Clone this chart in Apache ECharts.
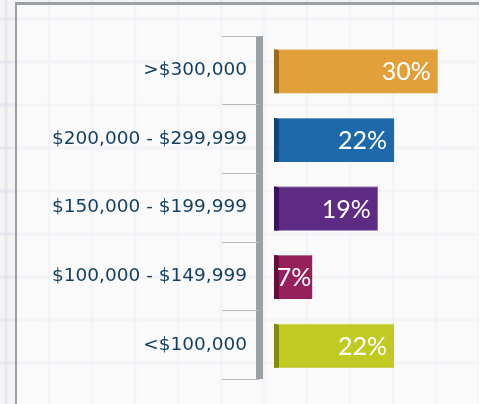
<!DOCTYPE html>
<html lang="en">
<head>
  <meta charset="UTF-8">
  <title>Income ranges</title>
  <script src="https://cdn.jsdelivr.net/npm/echarts@6/dist/echarts.min.js"></script>
  <style>
    html, body { margin: 0; padding: 0; }
    body {
      width: 479px; height: 404px; overflow: hidden; position: relative;
      background-color: #f4f4f6;
      background-image:
        linear-gradient(90deg, transparent 0, rgba(222,222,236,0.6) 1px, rgba(222,222,236,0.6) 3px, transparent 4px),
        linear-gradient(0deg, transparent 0, rgba(222,222,236,0.6) 1px, rgba(222,222,236,0.6) 3px, transparent 4px);
      background-size: 43px 43px;
      background-position: 4px 21px;
    }
    #frame {
      position: absolute; left: 15px; top: 2px; width: 480px; height: 420px;
      border-left: 2px solid #9aa0a4; border-top: 3px solid #9aa0a4;
      background: rgba(255,255,255,0.55);
    }
    #main { position: absolute; left: 0; top: 0; width: 479px; height: 404px; }
  </style>
</head>
<body>
<div id="frame"></div>
<div id="main"></div>
<script>
  // top to bottom
  var categories = ['>$300,000', '$200,000 - $299,999', '$150,000 - $199,999', '$100,000 - $149,999', '<$100,000'];
  var shares = [30, 22, 19, 7, 22];
  var faceColors = ['#e1a03a', '#1d69aa', '#5d2a84', '#95205b', '#c1c923'];
  var sideColors = ['#9a6a1e', '#0f4676', '#3b135d', '#650c3b', '#848a0c'];

  var myChart = echarts.init(document.getElementById('main'));

  var data = shares.map(function (v, i) { return [v, i]; });

  var option = {
    animation: false,
    grid: { left: 274, right: 14, top: 36, bottom: 25 },
    xAxis: { type: 'value', min: 0, max: 35, show: false },
    yAxis: {
      type: 'category',
      data: categories,
      inverse: true,
      offset: 15,
      axisLine: { show: true, onZero: false, lineStyle: { color: '#9ba2a6', width: 7, cap: 'butt' } },
      axisTick: { show: true, alignWithLabel: false, length: 37, lineStyle: { color: '#b5babd', width: 1 } },
      axisLabel: {
        margin: 12,
        color: '#123f5f',
        fontFamily: 'DejaVu Sans',
        fontSize: 18.5
      },
      splitLine: { show: false }
    },
    series: [{
      type: 'custom',
      data: data,
      encode: { x: 0, y: 1 },
      renderItem: function (params, api) {
        var v = api.value(0), c = api.value(1);
        var p0 = api.coord([0, c]);
        var p1 = api.coord([v, c]);
        var h = 44;
        var x0 = p0[0], x1 = p1[0], y = p0[1] - h / 2 + 1;
        var i = params.dataIndex;
        // short bars: keep the label inside the bar
        var tx = Math.max(x1 - 7, Math.min(x1 - 1, x0 + 38));
        return {
          type: 'group',
          children: [
            { type: 'rect', shape: { x: x0, y: y, width: x1 - x0, height: h },
              style: { fill: faceColors[i] } },
            { type: 'polygon', shape: { points: [[x0, y], [x0 + 5, y + 1], [x0 + 5, y + h], [x0, y + h]] },
              style: { fill: sideColors[i] } },
            { type: 'polygon', shape: { points: [[x0, y - 1], [x1 - 2, y - 1], [x1, y + 1], [x0 + 5, y + 1]] },
              style: { fill: 'rgba(255,255,255,0.35)' } },
            { type: 'text', x: tx, y: y + h / 2 + 1,
              style: { text: v + '%', fill: '#ffffff', fontFamily: 'Lato', fontSize: 25,
                       align: 'right', verticalAlign: 'middle' } }
          ]
        };
      }
    }]
  };

  myChart.setOption(option);
</script>
</body>
</html>
